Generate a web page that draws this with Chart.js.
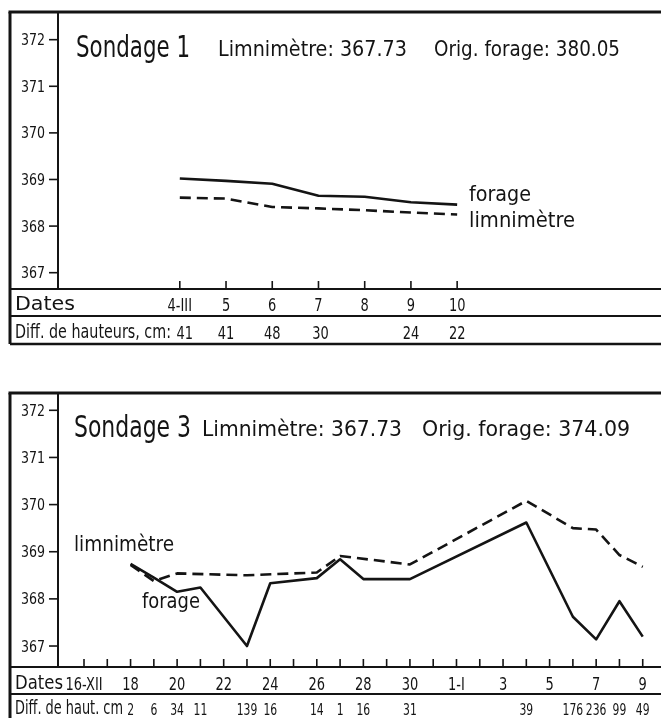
<!DOCTYPE html>
<html><head><meta charset="utf-8">
<script src="https://cdn.jsdelivr.net/npm/chart.js@4.4.1/dist/chart.umd.min.js"></script>
<style>
html,body{margin:0;padding:0;background:#fff;width:661px;height:718px;overflow:hidden}
.wrap{position:absolute;left:0;width:661px}
canvas{display:block}
</style></head><body>
<div class="wrap" style="top:0;height:350px"><canvas id="c1" width="661" height="350"></canvas></div>
<div class="wrap" style="top:380px;height:338px"><canvas id="c2" width="661" height="338"></canvas></div>
<script>
// ---------- Sondage 1 (days of March) ----------
const s1DateLabels = ['4-III','5','6','7','8','9','10'];
const s1Days       = [4, 5, 6, 7, 8, 9, 10];
const s1Forage     = [369.02, 368.97, 368.91, 368.65, 368.63, 368.51, 368.46];
const s1Limni      = [368.61, 368.59, 368.41, 368.38, 368.34, 368.29, 368.25];
const s1Diff       = ['41','41','48','30','','24','22'];
const s1YTicks     = [367, 368, 369, 370, 371, 372];

// ---------- Sondage 3 (day index: 0 = 16-XII ... 16 = 1-I ... 24 = 9-I) ----------
const s3DateLabels = ['16-XII','18','20','22','24','26','28','30','1-I','3','5','7','9'];
const s3DateDays   = [0, 2, 4, 6, 8, 10, 12, 14, 16, 18, 20, 22, 24];
const s3ForageDays = [2, 3, 4, 5, 7, 8, 10, 11, 12, 14, 19, 21, 22, 23, 24];
const s3Forage     = [368.74, 368.45, 368.15, 368.24, 367.00, 368.33, 368.44, 368.84, 368.42, 368.42, 369.62, 367.62, 367.14, 367.95, 367.20];
const s3LimniDays  = [2, 3, 4, 7, 10, 11, 14, 19, 21, 22, 23, 24];
const s3Limni      = [368.72, 368.38, 368.54, 368.50, 368.56, 368.91, 368.73, 370.08, 369.50, 369.47, 368.93, 368.68];
const s3DiffDays   = [2, 3, 4, 5, 7, 8, 10, 11, 12, 14, 19, 21, 22, 23, 24];
const s3Diff       = ['2','6','34','11','139','16','14','1','16','31','39','176','236','99','49'];
const s3YTicks     = [367, 368, 369, 370, 371, 372];
const s3FirstDay = 0, s3LastDay = 24;

const FONT = "'Liberation Sans Narrow','DejaVu Sans Condensed','Liberation Sans',sans-serif";
const INK = '#141414';

// w: target width in px (number) or null; sx: horizontal scale used when w is null
function fitText(ctx, s, x, y, size, w, align, sx0) {
  ctx.font = size + 'px ' + FONT;
  const m = ctx.measureText(s).width || 1;
  const sx = w ? w / m : (sx0 || 1);
  ctx.save();
  ctx.translate(x, y);
  ctx.scale(sx, 1);
  ctx.textAlign = align || 'left';
  ctx.textBaseline = 'alphabetic';
  ctx.fillStyle = INK;
  ctx.fillText(s, 0, 0);
  ctx.restore();
}
function line(ctx, x1, y1, x2, y2, lw) {
  ctx.beginPath(); ctx.lineWidth = lw; ctx.strokeStyle = INK;
  ctx.moveTo(x1, y1); ctx.lineTo(x2, y2); ctx.stroke();
}
function pts(days, vals) { return days.map((d, i) => ({x: d, y: vals[i]})); }

const decorPlugin = {
  id: 'decor',
  afterDraw(chart, args, o) {
    const ctx = chart.ctx, a = chart.chartArea;
    const xs = chart.scales.x, ys = chart.scales.y;
    const W = chart.width;
    ctx.save();
    ctx.lineCap = 'butt';
    // frame
    line(ctx, o.frameLeft - 1.5, a.top, W, a.top, 3);
    line(ctx, o.frameLeft, a.top, o.frameLeft, o.frameBottom, 3);
    if (o.frameBottom < chart.height) line(ctx, o.frameLeft, o.frameBottom, W, o.frameBottom, 2.5);
    // y axis
    line(ctx, a.left, a.top, a.left, a.bottom, 2);
    // x axis + row separator
    line(ctx, o.frameLeft, a.bottom, W, a.bottom, 2);
    line(ctx, o.frameLeft, o.sepY, W, o.sepY, 2);
    // y ticks
    o.yTicks.forEach(v => {
      const py = ys.getPixelForValue(v);
      line(ctx, a.left - 9, py, a.left, py, 1.6);
      fitText(ctx, String(v), a.left - 13, py + 5.5, 16, 24, 'right');
    });
    // x ticks
    o.tickDays.forEach(d => {
      const px = xs.getPixelForValue(d);
      line(ctx, px, a.bottom - 8, px, a.bottom, 1.6);
    });
    // date row
    fitText(ctx, 'Dates', 15, o.dateBase - 1, 20, o.datesW, 'left');
    o.dateLabels.forEach((t, i) => {
      fitText(ctx, t, xs.getPixelForValue(o.dateDays[i]), o.dateBase, o.numSize, null, 'center', o.numSx);
    });
    // diff row
    fitText(ctx, o.diffLabel, 15, o.diffBase - 1, 19, o.diffW, 'left');
    o.diffLabels.forEach((t, i) => {
      if (t) fitText(ctx, t, xs.getPixelForValue(o.diffDays[i]) + (o.diffShift[i] || 0), o.diffBase, o.diffSize, null, 'center', o.diffSx);
    });
    // titles and series labels
    o.texts.forEach(t => fitText(ctx, t.s, t.x, t.y, t.size, t.w, 'left'));
    ctx.restore();
  }
};

function ds(data, dashed) {
  return {
    data, borderColor: INK, borderWidth: 2.6, pointRadius: 0, tension: 0, fill: false,
    borderDash: dashed ? [11, 6] : [], borderCapStyle: 'butt', borderJoinStyle: 'round'
  };
}

function makeChart(id, datasets, xr, yr, pad, decor) {
  return new Chart(document.getElementById(id), {
    type: 'line',
    data: { datasets },
    options: {
      responsive: false, animation: false, devicePixelRatio: 1,
      layout: { padding: pad },
      plugins: { legend: {display: false}, tooltip: {enabled: false}, decor },
      scales: {
        x: { type: 'linear', min: xr[0], max: xr[1], display: false },
        y: { type: 'linear', min: yr[0], max: yr[1], display: false }
      }
    },
    plugins: [decorPlugin]
  });
}

// Top chart
makeChart('c1',
  [ds(pts(s1Days, s1Forage), false), ds(pts(s1Days, s1Limni), true)],
  [1.365, 14.41], [366.65, 372.594],
  {left: 58, top: 12, right: 0, bottom: 61},
  {
    frameLeft: 10, frameBottom: 344, sepY: 316,
    yTicks: s1YTicks, tickDays: s1Days,
    dateLabels: s1DateLabels, dateDays: s1Days, dateBase: 311, datesW: 60, numSize: 17, numSx: 0.85,
    diffLabel: 'Diff. de hauteurs, cm:', diffW: 156, diffLabels: s1Diff, diffDays: s1Days, diffBase: 339,
    diffSize: 17, diffSx: 0.85, diffShift: [5, 0, 0, 2, 0, 0, 0],
    texts: [
      {s: 'Sondage 1', x: 76, y: 57, size: 31, w: 114},
      {s: 'Limnimètre: 367.73', x: 218, y: 56, size: 22, w: 189},
      {s: 'Orig. forage: 380.05', x: 434, y: 56, size: 22, w: 186},
      {s: 'forage', x: 469, y: 201, size: 21, w: 62},
      {s: 'limnimètre', x: 469, y: 227, size: 21, w: 106}
    ]
  });

// Bottom chart
const s3Ticks = [];
for (let d = s3FirstDay; d <= s3LastDay; d++) s3Ticks.push(d);
makeChart('c2',
  [ds(pts(s3ForageDays, s3Forage), false), ds(pts(s3LimniDays, s3Limni), true)],
  [-1.117, 24.785], [366.555, 372.367],
  {left: 58, top: 13, right: 0, bottom: 51},
  {
    frameLeft: 10, frameBottom: 338, sepY: 314,
    yTicks: s3YTicks, tickDays: s3Ticks,
    dateLabels: s3DateLabels, dateDays: s3DateDays, dateBase: 310, datesW: 48, numSize: 17, numSx: 0.85,
    diffLabel: 'Diff. de haut. cm', diffW: 108, diffLabels: s3Diff, diffDays: s3DiffDays, diffBase: 335,
    diffSize: 15, diffSx: 0.8, diffShift: [],
    texts: [
      {s: 'Sondage 3', x: 74, y: 57, size: 31, w: 117},
      {s: 'Limnimètre: 367.73', x: 202, y: 56, size: 22, w: 200},
      {s: 'Orig. forage: 374.09', x: 422, y: 56, size: 22, w: 208},
      {s: 'limnimètre', x: 74, y: 171, size: 21, w: 100},
      {s: 'forage', x: 142, y: 228, size: 21, w: 58}
    ]
  });
</script>
</body></html>
